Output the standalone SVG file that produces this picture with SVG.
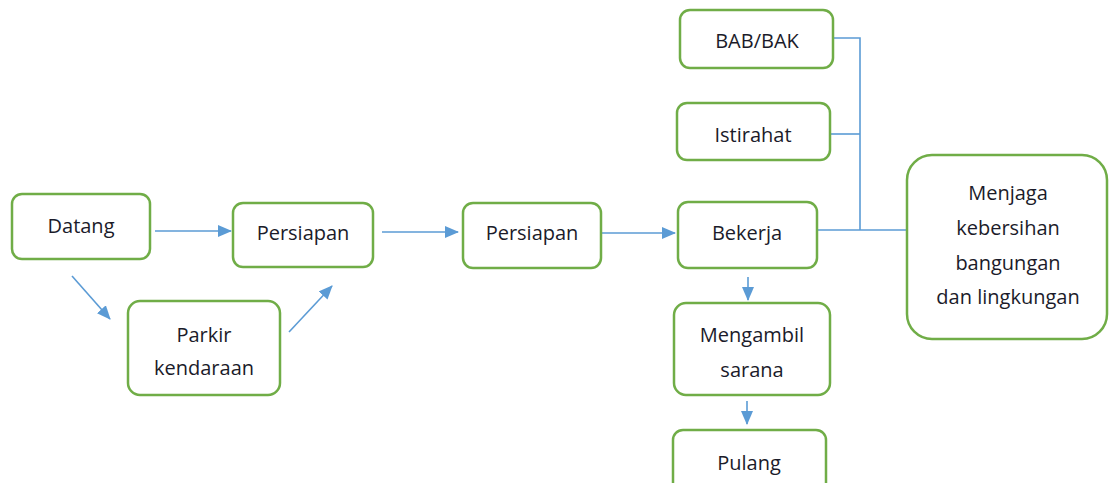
<svg xmlns="http://www.w3.org/2000/svg" width="1109" height="483" viewBox="0 0 1109 483">
<style>
.box{fill:#fff;stroke:#70AD47;stroke-width:2.5}
.t{font-family:"Open Sans","Noto Sans",sans-serif;font-size:20px;fill:#1b1b2a;text-anchor:middle}
.c{fill:none;stroke:#5B9BD5;stroke-width:1.6}
</style>
<defs>
<marker id="ah" markerUnits="userSpaceOnUse" markerWidth="14" markerHeight="12" refX="13" refY="6" orient="auto">
<path d="M0,0 L14,6 L0,12 Z" fill="#5B9BD5"/>
</marker>
</defs>
<rect width="1109" height="483" fill="#fff"/>
<g id="connectors">
<line class="c" x1="155" y1="231" x2="231" y2="231" marker-end="url(#ah)"/>
<line class="c" x1="72" y1="276" x2="110" y2="319" marker-end="url(#ah)"/>
<line class="c" x1="289" y1="332" x2="332" y2="286" marker-end="url(#ah)"/>
<line class="c" x1="382" y1="232" x2="458" y2="232" marker-end="url(#ah)"/>
<line class="c" x1="600" y1="233" x2="675" y2="233" marker-end="url(#ah)"/>
<line class="c" x1="748" y1="277" x2="748" y2="300" marker-end="url(#ah)"/>
<line class="c" x1="747" y1="401" x2="747" y2="424" marker-end="url(#ah)"/>
<polyline class="c" points="833,38 860,38 860,230"/>
<line class="c" x1="830" y1="134" x2="860" y2="134"/>
<line class="c" x1="817" y1="230" x2="907" y2="230"/>
</g>
<g id="datang"><rect class="box" x="12" y="194" width="138" height="65" rx="10"/><text class="t" x="81" y="233">Datang</text></g>
<g id="persiapan1"><rect class="box" x="233" y="203" width="140" height="64" rx="10"/><text class="t" x="303" y="240">Persiapan</text></g>
<g id="parkir"><rect class="box" x="128" y="301" width="152" height="94" rx="12"/><text class="t" x="204" y="342">Parkir</text><text class="t" x="204" y="375">kendaraan</text></g>
<g id="persiapan2"><rect class="box" x="463" y="203" width="138" height="65" rx="10"/><text class="t" x="532" y="240">Persiapan</text></g>
<g id="bekerja"><rect class="box" x="678" y="202" width="139" height="66" rx="10"/><text class="t" x="747" y="240">Bekerja</text></g>
<g id="babbak"><rect class="box" x="680" y="10" width="153" height="58" rx="10"/><text class="t" x="757" y="48">BAB/BAK</text></g>
<g id="istirahat"><rect class="box" x="677" y="103" width="153" height="57" rx="10"/><text class="t" x="753" y="142">Istirahat</text></g>
<g id="menjaga"><rect class="box" x="907" y="155" width="200" height="184" rx="25"/><text class="t" x="1008" y="200">Menjaga</text><text class="t" x="1008" y="235">kebersihan</text><text class="t" x="1008" y="270">bangungan</text><text class="t" x="1008" y="304">dan lingkungan</text></g>
<g id="mengambil"><rect class="box" x="674" y="303" width="156" height="92" rx="12"/><text class="t" x="752" y="342">Mengambil</text><text class="t" x="752" y="377">sarana</text></g>
<g id="pulang"><rect class="box" x="673" y="430" width="153" height="70" rx="10"/><text class="t" x="749" y="470">Pulang</text></g>
</svg>
